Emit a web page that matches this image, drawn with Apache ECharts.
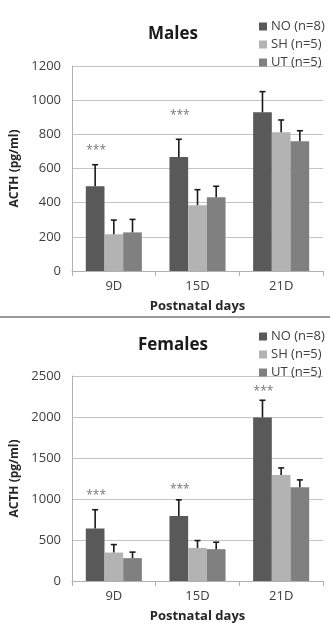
<!DOCTYPE html>
<html>
<head>
<meta charset="utf-8">
<script src="https://cdn.jsdelivr.net/npm/echarts@6/dist/echarts.min.js"></script>
<style>
html,body{margin:0;padding:0;background:#fff;}
#chart{width:330px;height:625px;}
</style>
</head>
<body>
<div id="chart"></div>
<script>
// ---- data ----
var categories = ['9D', '15D', '21D'];
var groupNames = ['NO (n=8)', 'SH (n=5)', 'UT (n=5)'];

var malesNO = [496, 667, 929];
var malesNOErr = [622, 771, 1050];
var malesSH = [215, 385, 812];
var malesSHErr = [298, 476, 884];
var malesUT = [226, 431, 759];
var malesUTErr = [302, 496, 821];
var malesStars = [706, 909, null];

var femalesNO = [640, 792, 1995];
var femalesNOErr = [869, 990, 2204];
var femalesSH = [347, 404, 1294];
var femalesSHErr = [444, 493, 1379];
var femalesUT = [279, 388, 1144];
var femalesUTErr = [352, 473, 1233];
var femalesStars = [1039, 1117, 2306];

var malesTicks = {min: 0, max: 1200, interval: 200};
var femalesTicks = {min: 0, max: 2500, interval: 500};

// ---- styles ----
var colors = ['#595959', '#b3b3b3', '#808080'];
var FONT = '"Open Sans", "Noto Sans", sans-serif';
var CAT_GAP = 0.33;

var chart = echarts.init(document.getElementById('chart'), null, {renderer: 'canvas'});

function makeBars(values, name, color, axisIdx) {
  return {
    type: 'bar', name: name, xAxisIndex: axisIdx, yAxisIndex: axisIdx,
    data: values, barGap: '0%', barCategoryGap: (CAT_GAP * 100) + '%',
    itemStyle: {color: color}, emphasis: {disabled: true}, z: 2
  };
}

function makeErr(values, errs, groupIdx, axisIdx) {
  var data = values.map(function (v, i) { return [i, v, errs[i]]; });
  return {
    type: 'custom', xAxisIndex: axisIdx, yAxisIndex: axisIdx, z: 5,
    silent: true, data: data,
    renderItem: function (params, api) {
      var c = api.value(0);
      var base = api.coord([c, api.value(1)]);
      var top = api.coord([c, api.value(2)]);
      var band = api.size([1, 0])[0];
      var bw = band * (1 - CAT_GAP) / 3;
      var x = base[0] + (groupIdx - 1) * bw;
      var cap = 3;
      var st = {stroke: '#1a1a1a', lineWidth: 1.6};
      return {
        type: 'group', children: [
          {type: 'line', shape: {x1: x, y1: base[1], x2: x, y2: top[1]}, style: st},
          {type: 'line', shape: {x1: x - cap, y1: top[1], x2: x + cap, y2: top[1]}, style: st}
        ]
      };
    }
  };
}

function makeStars(stars, axisIdx) {
  var data = [];
  stars.forEach(function (v, i) { if (v != null) data.push([i, v]); });
  return {
    type: 'custom', xAxisIndex: axisIdx, yAxisIndex: axisIdx, z: 6, silent: true,
    data: data,
    renderItem: function (params, api) {
      var c = api.value(0);
      var p = api.coord([c, api.value(1)]);
      var band = api.size([1, 0])[0];
      var bw = band * (1 - CAT_GAP) / 3;
      var x = p[0] - bw + 1;
      return {
        type: 'text', x: x, y: p[1],
        style: {text: '***', fill: '#777', font: '12px ' + FONT, align: 'center', verticalAlign: 'middle'}
      };
    }
  };
}

function xAxisCfg(gridIdx) {
  return {
    type: 'category', gridIndex: gridIdx, data: categories,
    axisLine: {lineStyle: {color: '#b0b0b0', width: 1}},
    axisTick: {show: true, length: 5, lineStyle: {color: '#b0b0b0'}},
    axisLabel: {color: '#404040', fontSize: 13, fontFamily: FONT, margin: 9},
    name: 'Postnatal days', nameLocation: 'middle', nameGap: 29,
    nameTextStyle: {color: '#262626', fontSize: 13, fontWeight: 'bold', fontFamily: FONT}
  };
}

function yAxisCfg(gridIdx, t) {
  return {
    type: 'value', gridIndex: gridIdx, min: t.min, max: t.max, interval: t.interval,
    axisLine: {show: true, lineStyle: {color: '#b0b0b0'}},
    axisTick: {show: false},
    splitLine: {lineStyle: {color: '#c4c4c4', width: 1}},
    axisLabel: {color: '#404040', fontSize: 13, fontFamily: FONT, margin: 11,
      formatter: function (v) { return String(v); }},
    name: 'ACTH (pg/ml)', nameLocation: 'middle', nameGap: 45, nameRotate: 90,
    nameTextStyle: {color: '#262626', fontSize: 12, fontWeight: 'bold', fontFamily: FONT}
  };
}

function legendCfg(top) {
  return {
    orient: 'vertical', left: 254, top: top, itemWidth: 8, itemHeight: 8,
    itemGap: 5, icon: 'rect', data: groupNames,
    textStyle: {color: '#404040', fontSize: 13, fontFamily: FONT, lineHeight: 13, padding: [0, 0, 0, -1]},
    selectedMode: false
  };
}

var option = {
  animation: false,
  backgroundColor: '#fff',
  title: [
    {text: 'Males', left: 168, top: 21, textAlign: 'center',
     textStyle: {fontSize: 17, fontWeight: 'bold', color: '#1a1a1a', fontFamily: FONT}},
    {text: 'Females', left: 168, top: 332, textAlign: 'center',
     textStyle: {fontSize: 17, fontWeight: 'bold', color: '#1a1a1a', fontFamily: FONT}}
  ],
  legend: [legendCfg(15), legendCfg(325)],
  grid: [
    {left: 72, right: 7, top: 66, height: 205},
    {left: 72, right: 7, top: 376, height: 205}
  ],
  xAxis: [xAxisCfg(0), xAxisCfg(1)],
  yAxis: [yAxisCfg(0, malesTicks), yAxisCfg(1, femalesTicks)],
  graphic: [
    {type: 'line', shape: {x1: 0, y1: 317, x2: 330, y2: 317},
     style: {stroke: '#9a9a9a', lineWidth: 2}}
  ],
  series: [
    makeBars(malesNO, groupNames[0], colors[0], 0),
    makeBars(malesSH, groupNames[1], colors[1], 0),
    makeBars(malesUT, groupNames[2], colors[2], 0),
    makeBars(femalesNO, groupNames[0], colors[0], 1),
    makeBars(femalesSH, groupNames[1], colors[1], 1),
    makeBars(femalesUT, groupNames[2], colors[2], 1),
    makeErr(malesNO, malesNOErr, 0, 0),
    makeErr(malesSH, malesSHErr, 1, 0),
    makeErr(malesUT, malesUTErr, 2, 0),
    makeErr(femalesNO, femalesNOErr, 0, 1),
    makeErr(femalesSH, femalesSHErr, 1, 1),
    makeErr(femalesUT, femalesUTErr, 2, 1),
    makeStars(malesStars, 0),
    makeStars(femalesStars, 1)
  ]
};
chart.setOption(option);
</script>
</body>
</html>
